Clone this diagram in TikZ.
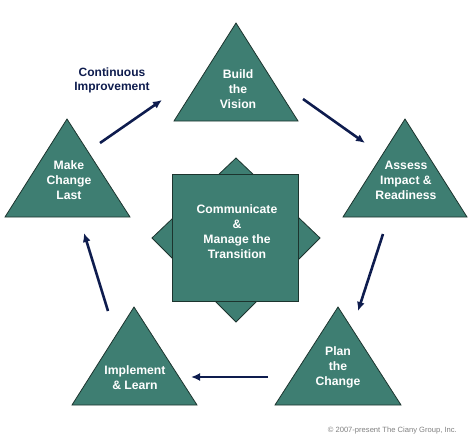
\documentclass[tikz,border=0pt]{standalone}
\usepackage{fontspec}
\setmainfont{Liberation Sans}
\usetikzlibrary{arrows.meta}
\definecolor{stagegreen}{RGB}{62,126,114}
\definecolor{stageedge}{RGB}{28,52,46}
\definecolor{flowblue}{RGB}{14,28,78}
\tikzset{
	>={Latex[length=9pt,width=8pt]},
}

\begin{document}
\begin{tikzpicture}[x=1pt,y=-1pt,
		stage/.style={draw=stageedge, fill=stagegreen, line width=0.8pt, line join=miter},
		steptext/.style={text=white, font=\bfseries\fontsize{12.2}{15}\selectfont, align=center, inner sep=0pt},
		flow/.style={->, draw=flowblue, line width=2.6pt},
		note/.style={text=flowblue, font=\bfseries\fontsize{12}{14}\selectfont, align=center},
	]
		\useasboundingbox (0,0) rectangle (474,439);
		% hub: diamond behind the square
		\draw[stage] (236,158) -- (320,238) -- (236,322) -- (152,238) -- cycle;
		\draw[stage] (172,174) rectangle (298,301);
		\node(hub)[steptext] at (237,232) {Communicate\\\&\\Manage the\\Transition};
		% the five stages
		\draw[stage] (236,23) -- (298,121) -- (174,121) -- cycle;
		\node(vision)[steptext] at (238,89) {Build\\the\\Vision};
		\draw[stage] (405,119) -- (467,217) -- (343,217) -- cycle;
		\node(assess)[steptext] at (406,180) {Assess\\Impact \&\\Readiness};
		\draw[stage] (338,307) -- (401,405) -- (275,405) -- cycle;
		\node(plan)[steptext] at (338,367) {Plan\\the\\Change};
		\draw[stage] (134,307) -- (197,405) -- (72,405) -- cycle;
		\node(learn)[steptext] at (135,378) {Implement\\\& Learn};
		\draw[stage] (67,119) -- (130,217) -- (5,217) -- cycle;
		\node(last)[steptext] at (69,180) {Make\\Change\\Last};
		% arrows round the cycle
		\coordinate(k1) at (100,143); \coordinate(k2) at (162,100);
		\coordinate(k3) at (303,99);  \coordinate(k4) at (365,143);
		\coordinate(k5) at (383,234); \coordinate(k6) at (358,311);
		\coordinate(k7) at (268,377); \coordinate(k8) at (191,377);
		\coordinate(k9) at (108,311); \coordinate(k10) at (84,233);
		\draw[flow] (k1) -- (k2);
		\draw[flow] (k3) -- (k4);
		\draw[flow] (k5) -- (k6);
		\draw[flow] (k7) -- (k8);
		\draw[flow] (k9) -- (k10);
		\node(cont)[note] at (112,80) {Continuous\\Improvement};
		\node(copy)[anchor=east, text=black!50, font=\fontsize{7.6}{9}\selectfont, inner sep=0pt] at (457,431) {\textcopyright{} 2007-present The Ciany Group, Inc.};
	\end{tikzpicture}
\end{document}
